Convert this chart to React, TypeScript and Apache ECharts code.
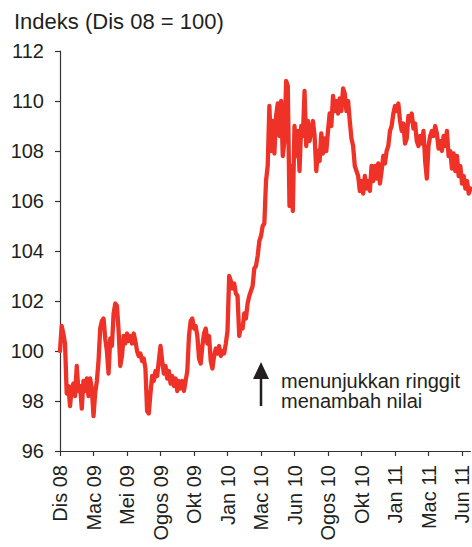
import React, { useEffect, useRef } from "react";
import * as echarts from "echarts";

const tickLabels = [
  "Dis 08", "Mac 09", "Mei 09", "Ogos 09", "Okt 09", "Jan 10", "Mac 10",
  "Jun 10", "Ogos 10", "Okt 10", "Jan 11", "Mac 11", "Jun 11",
];

const pointsPerTick = 20;

// Index values, 20 readings between consecutive ticks
const seg0 = [100.0, 101.0, 100.7, 100.3, 98.3, 98.6, 97.8, 98.5, 98.7, 98.2, 99.4, 98.4, 98.6, 97.7, 98.8, 98.4, 98.9, 98.2, 98.9, 98.5];
const seg1 = [97.4, 98.3, 98.8, 99.6, 100.9, 101.2, 101.3, 100.5, 100.0, 99.1, 100.5, 100.2, 101.5, 101.9, 101.8, 100.8, 99.4, 99.8, 100.6, 100.3];
const seg2 = [100.7, 100.4, 100.6, 100.3, 100.7, 100.4, 100.0, 99.8, 99.9, 99.6, 99.7, 99.3, 97.6, 97.5, 98.3, 99.0, 98.8, 99.2, 99.0, 99.6];
const seg3 = [100.2, 99.6, 99.1, 99.4, 98.9, 99.2, 98.7, 99.0, 98.6, 98.9, 98.4, 98.8, 98.5, 98.8, 98.4, 98.8, 99.2, 100.6, 101.2, 101.3];
const seg4 = [100.9, 101.0, 100.6, 99.7, 99.5, 100.2, 100.7, 100.9, 100.3, 100.6, 99.6, 99.3, 99.8, 100.1, 99.9, 100.2, 99.8, 100.0, 99.9, 100.3];
const seg5 = [100.8, 103.0, 102.8, 102.5, 102.7, 102.3, 102.2, 100.6, 101.0, 100.9, 101.5, 101.3, 101.9, 102.2, 102.4, 102.6, 103.3, 103.4, 103.8, 104.4];
const seg6 = [104.6, 105.0, 105.1, 106.8, 107.4, 109.8, 108.0, 109.2, 107.9, 109.4, 109.9, 108.6, 110.0, 107.8, 108.4, 110.8, 110.6, 105.8, 107.4, 105.6];
const seg7 = [109.0, 107.8, 108.8, 107.2, 109.0, 108.6, 110.4, 108.2, 109.2, 108.4, 108.8, 109.2, 108.6, 107.2, 108.0, 107.6, 108.7, 107.9, 108.5, 108.0];
const seg8 = [108.8, 109.5, 109.0, 110.2, 109.6, 110.0, 109.5, 110.1, 109.6, 110.5, 110.3, 109.6, 110.0, 109.2, 108.5, 108.2, 107.4, 107.2, 107.0, 106.4];
const seg9 = [106.8, 106.3, 107.0, 106.5, 106.8, 106.4, 107.4, 106.8, 107.4, 106.9, 107.5, 106.7, 107.2, 107.8, 107.5, 108.0, 108.2, 108.8, 109.0, 109.5];
const seg10 = [109.8, 109.6, 109.9, 109.2, 108.8, 109.1, 108.3, 108.5, 109.4, 109.2, 109.5, 108.9, 109.1, 108.4, 108.2, 108.6, 108.3, 108.8, 107.6, 106.9];
const seg11 = [108.2, 108.6, 108.8, 108.6, 109.0, 108.7, 108.1, 108.4, 108.0, 108.6, 108.2, 108.8, 107.8, 108.0, 107.3, 107.9, 107.2, 107.8, 107.0, 107.4];
const seg12 = [106.7, 107.0, 106.5, 106.8, 106.3, 106.5];

const indexValues = [
  ...seg0, ...seg1, ...seg2, ...seg3, ...seg4, ...seg5, ...seg6,
  ...seg7, ...seg8, ...seg9, ...seg10, ...seg11, ...seg12,
];

const yMin = 96;
const yMax = 112;
const yStep = 2;

const titleText = "Indeks (Dis 08 = 100)";
const noteText = "menunjukkan ringgit\nmenambah nilai";

const FONT = "'Liberation Sans', Arial, Helvetica, sans-serif";
const TEXT = "#231f20";

export default function App() {
  const ref = useRef<HTMLDivElement>(null);

  useEffect(() => {
    document.body.style.margin = "0";
    if (!ref.current) return;
    const chart = echarts.init(ref.current, null, { renderer: "svg" });
    const categories = indexValues.map((_, i) => String(i));
    chart.setOption({
      animation: false,
      backgroundColor: "#ffffff",
      textStyle: { fontFamily: FONT },
      title: {
        text: titleText,
        left: 9,
        top: 5,
        textStyle: { fontFamily: FONT, fontSize: 22, fontWeight: "normal", color: TEXT },
      },
      grid: { left: 60, right: 1.6, top: 51, bottom: 96, containLabel: false },
      xAxis: {
        type: "category",
        data: categories,
        boundaryGap: false,
        axisLine: { lineStyle: { color: "#333333", width: 1.2 } },
        axisTick: {
          show: true,
          length: 5,
          interval: (index: number) => index % pointsPerTick === 0,
          lineStyle: { color: "#333333", width: 1.2 },
        },
        axisLabel: {
          rotate: 90,
          margin: 14,
          fontSize: 20,
          fontFamily: FONT,
          color: TEXT,
          interval: (index: number) => index % pointsPerTick === 0,
          formatter: (_v: string, index: number) =>
            index % pointsPerTick === 0 ? tickLabels[index / pointsPerTick] ?? "" : "",
        },
        splitLine: { show: false },
      },
      yAxis: {
        type: "value",
        min: yMin,
        max: yMax,
        interval: yStep,
        axisLine: { show: true, lineStyle: { color: "#333333", width: 1.2 } },
        axisTick: { show: true, length: 5, lineStyle: { color: "#333333", width: 1.2 } },
        axisLabel: { margin: 16, fontSize: 20, fontFamily: FONT, color: TEXT },
        splitLine: { show: false },
      },
      series: [
        {
          type: "line",
          data: indexValues,
          showSymbol: false,
          symbol: "none",
          lineStyle: { color: "#ee3228", width: 4.3, join: "round", cap: "round" },
          itemStyle: { color: "#ee3228" },
        },
      ],
      graphic: [
        {
          type: "line",
          shape: { x1: 261, y1: 376, x2: 261, y2: 406 },
          style: { stroke: "#231f20", lineWidth: 2.5 },
        },
        {
          type: "polygon",
          shape: { points: [[253, 379], [261, 362], [269, 379]] },
          style: { fill: "#231f20" },
        },
        {
          type: "text",
          x: 281,
          y: 391,
          style: {
            text: noteText,
            font: `20px ${FONT}`,
            fill: TEXT,
            lineHeight: 20,
            verticalAlign: "middle",
            align: "left",
          },
        },
      ],
    });
    return () => chart.dispose();
  }, []);

  return <div ref={ref} style={{ width: 472, height: 547 }} />;
}
